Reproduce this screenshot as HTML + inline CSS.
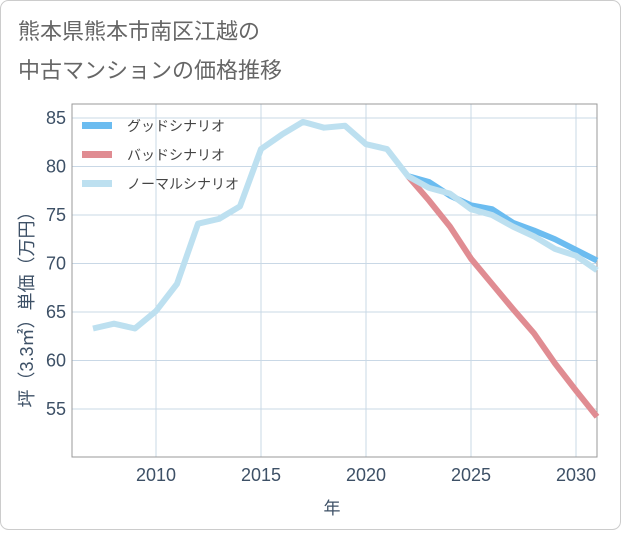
<!DOCTYPE html>
<html><head><meta charset="utf-8"><style>
body{margin:0;background:#fff;}
.f{font-family:"Liberation Sans","Noto Sans CJK JP",sans-serif;}
</style></head><body>
<svg id="s" width="621" height="530" xmlns="http://www.w3.org/2000/svg" class="f">
<rect x="0.5" y="0.5" width="620" height="529" rx="8" fill="#fff" stroke="#ccc"/>
<text x="18" y="39" font-size="22" fill="#666">熊本県熊本市南区江越の</text>
<text x="18" y="78" font-size="22" fill="#666">中古マンションの価格推移</text>
<g id="grid"></g>
<rect x="72" y="104" width="525" height="353" fill="none" stroke="#999"/>
<g id="lines" fill="none" stroke-width="6" stroke-linejoin="round"></g>
<g font-size="14" fill="#444">
<rect x="82" y="122" width="30" height="7" fill="#6bbcf0"/><text x="127" y="131">グッドシナリオ</text>
<rect x="82" y="151" width="30" height="7" fill="#e08c92"/><text x="127" y="160">バッドシナリオ</text>
<rect x="82" y="180" width="30" height="7" fill="#bde0f0"/><text x="127" y="189">ノーマルシナリオ</text>
</g>
<text x="332" y="514" font-size="17" fill="#3d5066" text-anchor="middle">年</text>
<text transform="translate(33,305) rotate(-90)" font-size="18" fill="#3d5066" text-anchor="middle">坪（3.3㎡）単価（万円）</text>
</svg>
<script>
var ns="http://www.w3.org/2000/svg",g=document.getElementById("grid"),L=document.getElementById("lines");
function X(y){return 156+(y-2010)*21;}function Y(v){return 118+(85-v)*9.7;}
function el(t,a,p){var e=document.createElementNS(ns,t);for(var k in a)e.setAttribute(k,a[k]);p.appendChild(e);return e;}
for(var v=55;v<=85;v+=5){el("line",{x1:72,x2:597,y1:Y(v),y2:Y(v),stroke:"#c9d8e6"},g);var t=el("text",{x:66,y:Y(v)+6,"font-size":18,fill:"#3d5066","text-anchor":"end"},g);t.textContent=v;}
for(var y=2010;y<=2030;y+=5){el("line",{x1:X(y),x2:X(y),y1:104,y2:457,stroke:"#c9d8e6"},g);var t=el("text",{x:X(y),y:481,"font-size":18,fill:"#3d5066","text-anchor":"middle"},g);t.textContent=y;}
function P(start,d,c){var p=d.map(function(v,i){return X(start+i)+","+Y(v)}).join(" ");el("polyline",{points:p,stroke:c},L);}
P(2022,[79,76.5,73.8,70.5,67.9,65.3,62.8,59.7,56.9,54.2],"#e08c92");
P(2022,[79,78.4,77.0,76.0,75.6,74.2,73.4,72.5,71.4,70.3],"#6bbcf0");
P(2007,[63.3,63.8,63.3,65.1,67.9,74.1,74.6,75.9,81.8,83.3,84.6,84.0,84.2,82.3,81.8,79.0,77.8,77.2,75.6,75.0,73.8,72.8,71.5,70.8,69.3],"#bde0f0");
</script>
</body></html>
